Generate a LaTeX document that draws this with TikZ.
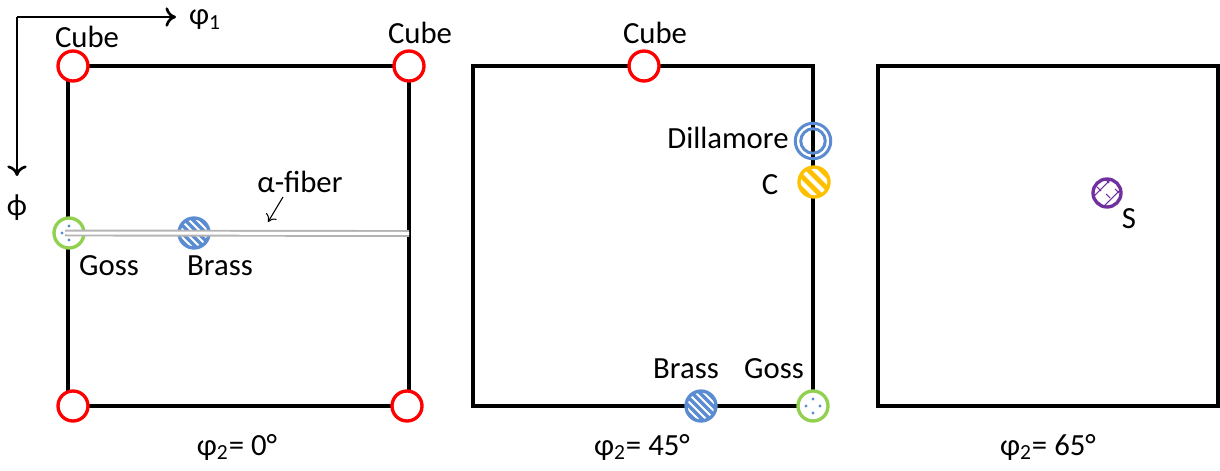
\documentclass[tikz,border=0pt]{standalone}
\usepackage{fontspec}
\setmainfont{Carlito}
\usetikzlibrary{arrows.meta}
\definecolor{cubered}{RGB}{255,0,0}
\definecolor{gossgreen}{RGB}{146,208,80}
\definecolor{brassblue}{RGB}{91,140,210}
\definecolor{corange}{RGB}{255,192,0}
\definecolor{spurple}{RGB}{112,48,160}
\definecolor{fibergray}{RGB}{180,180,180}
\begin{document}
\begin{tikzpicture}[x=0.02cm,y=-0.02cm,
  every node/.style={font=\fontsize{17.5}{21}\selectfont, inner sep=0pt},
  frame/.style={line width=2pt},
  axis/.style={line width=1.5pt, -{To[length=6pt,width=11pt]}},
  ori/.style={circle, minimum size=0.6cm, line width=1.9pt},
  cube/.style={ori, draw=cubered, fill=white},
  goss/.style={ori, draw=gossgreen, fill=white,
    path picture={
      \foreach \dx/\dy in {0/-7,-7/0,7/0,0/7}
        \fill[brassblue] ([shift={(\dx,\dy)}]path picture bounding box.center) circle[radius=0.9pt];}},
  brass/.style={ori, draw=brassblue, fill=brassblue,
    path picture={
      \foreach \i in {-5,...,5}
        \draw[white, line width=1.1pt] ([shift={(\i*8-20,-20)}]path picture bounding box.center) -- ++(40,40);}},
  cfib/.style={ori, draw=corange, fill=corange,
    path picture={
      \foreach \i in {-3,...,3}
        \draw[white, line width=2.3pt] ([shift={(\i*13-20,-20)}]path picture bounding box.center) -- ++(40,40);}},
  sfib/.style={ori, minimum size=0.56cm, draw=spurple, fill=white,
    path picture={
      \begin{scope}[spurple, line width=0.6pt, shift={(path picture bounding box.center)}]
        \draw (-14,4) -- (4,-14);
        \draw (-4,14) -- (14,-4);
        \draw (-9,9) -- (-5,13) (-1,1) -- (3,5) (-6,-2) -- (-10,-6) (2,-10) -- (-2,-14) (8,-4) -- (12,0);
      \end{scope}}},
  dill/.style={circle, draw=brassblue, line width=1.7pt},
  fiber/.style={draw=fibergray, double=white, line width=1.1pt, double distance=1.7pt}
]
\useasboundingbox (0,0) rectangle (1220,470);

% sample frame axes
\coordinate (o) at (17,17);
\coordinate (xend) at (176,17);
\coordinate (yend) at (17,176);
\draw[axis] (o) -- (xend);
\draw[axis] (o) -- (yend);
\node (phi1) at (205,20) {φ\textsubscript{1}};
\node (Phi) at (17,208) {ϕ};

% section phi2 = 0
\draw[frame] (68,66) rectangle (409,406);
\node[cube] (c1) at (73,66) {};
\node[cube] (c2) at (409,66) {};
\node[cube] (c3) at (73,406) {};
\node[cube] (c4) at (407,406) {};
\node (c1l) at (87,37) {Cube};
\node (c2l) at (420,33) {Cube};
\node[goss] (g1) at (69,233) {};
\node[brass] (b1) at (194,233) {};
\coordinate (fend) at (409,233.5);
\draw[fiber] ([xshift=-0.08cm]g1.center) -- (fend);
\node (g1l) at (109,266) {Goss};
\node (b1l) at (220,266) {Brass};
\node (afl) at (300,182) {α-fiber};
\coordinate (aftip) at (268,222);
\draw[line width=0.6pt, -{To[length=4pt,width=7pt]}] (283,197) -- (aftip);
\node (s1) at (237,447) {φ\textsubscript{2}= 0°};

% section phi2 = 45
\draw[frame] (473,66) rectangle (813,406);
\node[cube] (c5) at (644,66) {};
\node (c5l) at (655,33) {Cube};
\node[dill, minimum size=0.71cm] (d2) at (813,141) {};
\node[dill, minimum size=0.49cm] (d2i) at (813,141) {};
\node (d2l) at (728,138) {Dillamore};
\node[cfib] (cc2) at (814,182) {};
\node (cc2l) at (770,185) {C};
\node[brass] (b2) at (701,406) {};
\node[goss] (g2) at (813,406) {};
\node (b2l) at (686,369) {Brass};
\node (g2l) at (774,369) {Goss};
\node (s2) at (642,447) {φ\textsubscript{2}= 45°};

% section phi2 = 65
\draw[frame] (878,66) rectangle (1218,406);
\node[sfib] (sf) at (1107,193) {};
\node (sfl) at (1129,219) {S};
\node (s3) at (1048,447) {φ\textsubscript{2}= 65°};
\end{tikzpicture}
\end{document}
